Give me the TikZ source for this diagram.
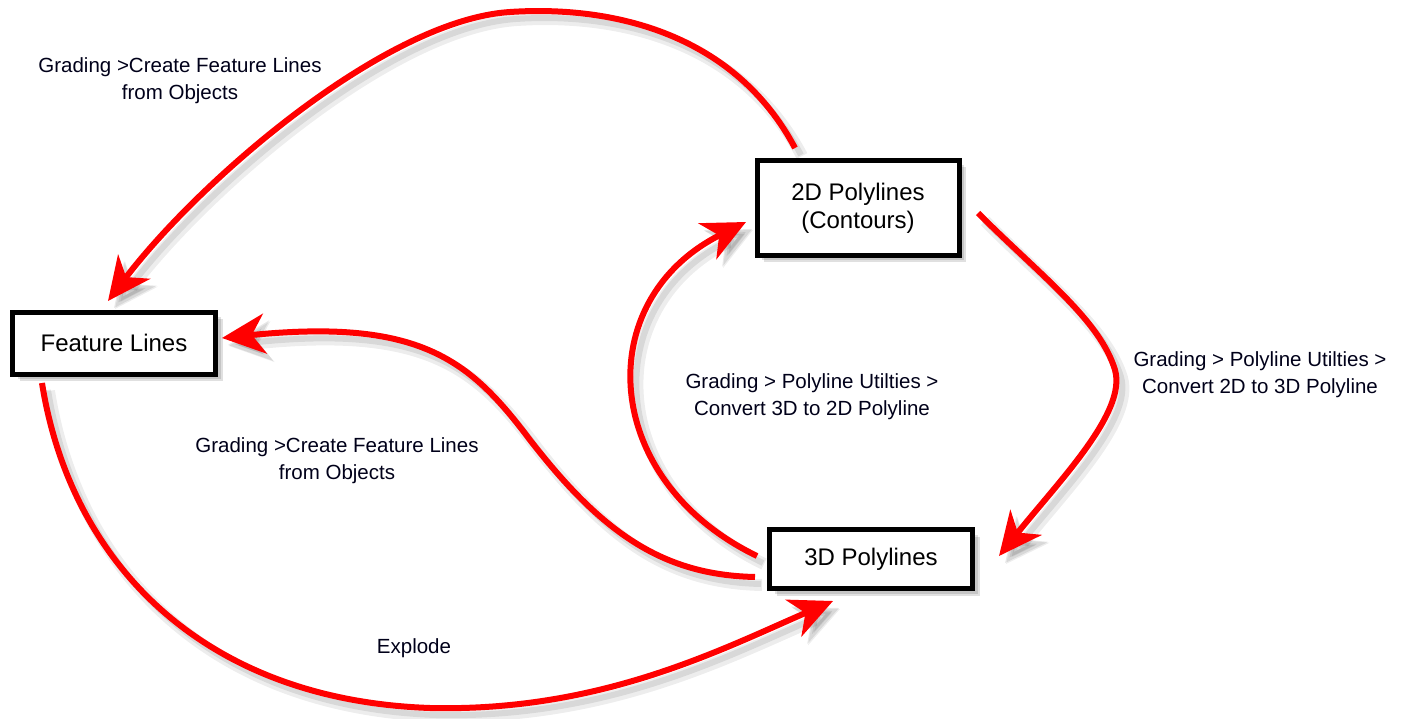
\documentclass[tikz,border=0pt]{standalone}
\usepackage{fontspec}
\setmainfont{Liberation Sans}
\usetikzlibrary{arrows.meta,shadows}
\begin{document}
\begin{tikzpicture}[x=1pt,y=-1pt,
  box/.style={draw=black, line width=5pt, fill=white, inner sep=0pt,
    font=\fontsize{24}{28}\selectfont, align=center,
    drop shadow={shadow xshift=7pt, shadow yshift=-7pt, fill=black, opacity=.12},
    drop shadow={shadow xshift=5pt, shadow yshift=-5pt, fill=black, opacity=.12}},
  lbl/.style={font=\fontsize{20.5}{27}\selectfont, align=center, text=black!90!blue},
  conn/.style={draw=red, line width=6pt,
    -{Stealth[length=43pt, width=40pt, inset=13pt]},
    preaction={draw=black, opacity=.07, line width=12pt,
      transform canvas={shift={(7pt,-8pt)}}},
    preaction={draw=black, opacity=.09, line width=6pt,
      transform canvas={shift={(6pt,-7pt)}}}}
]
\useasboundingbox (0,0) rectangle (1405,719);

\node[box, minimum width=203pt, minimum height=62pt] (fl) at (114,343) {Feature Lines};
\node[box, minimum width=202pt, minimum height=95pt] (p2d) at (858,208) {2D Polylines\\(Contours)};
\node[box, minimum width=203pt, minimum height=59pt] (p3d) at (871,559) {3D Polylines};

% free ends near node borders
\coordinate (a1s) at (795,148);
\coordinate (a1e) at (108,301);
\coordinate (a2s) at (755,577);
\coordinate (a2e) at (222,338);
\coordinate (a3s) at (757,556);
\coordinate (a3e) at (746,222);
\coordinate (a4s) at (978,213);
\coordinate (a4e) at (999,556);
\coordinate (a5s) at (42,383);
\coordinate (a5e) at (833,601);

% 2D -> Feature Lines (top)
\path[conn] (a1s) .. controls (735,35) and (615,5) .. (510,12)
  .. controls (385,20) and (200,180) .. (a1e);
% 3D -> Feature Lines
\path[conn] (a2s) .. controls (660,575) and (600,530) .. (530,440)
  .. controls (470,360) and (420,318) .. (a2e);
% 3D -> 2D
\path[conn] (a3s) .. controls (600,480) and (590,300) .. (a3e);
% 2D -> 3D
\path[conn] (a4s) .. controls (1040,275) and (1100,320) .. (1115,370)
  .. controls (1127,412) and (1060,480) .. (a4e);
% Feature Lines -> 3D
\path[conn] (a5s) .. controls (70,560) and (200,700) .. (430,708)
  .. controls (600,712) and (720,650) .. (a5e);

\node[lbl] (t1) at (180,81) {Grading >Create Feature Lines\\from Objects};
\node[lbl] (t2) at (337,461) {Grading >Create Feature Lines\\from Objects};
\node[lbl] (t3) at (812,397) {Grading > Polyline Utilties >\\Convert 3D to 2D Polyline};
\node[lbl] (t4) at (1260,375) {Grading > Polyline Utilties >\\Convert 2D to 3D Polyline};
\node[lbl] (t5) at (414,648) {Explode};
\end{tikzpicture}
\end{document}
